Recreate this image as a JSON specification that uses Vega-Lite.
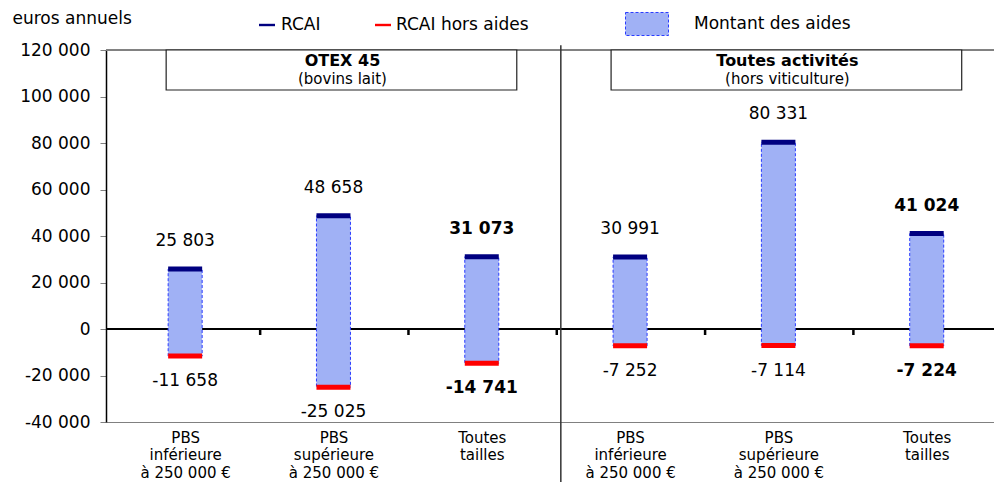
{
  "$schema": "https://vega.github.io/schema/vega-lite/v6.json",
  "width": 888,
  "height": 372,
  "autosize": {"type": "none"},
  "padding": {"left": 106, "top": 50, "right": 0, "bottom": 60},
  "background": "white",
  "config": {
    "view": {"stroke": null},
    "font": "DejaVu Sans",
    "locale": {"number": {"decimal": ",", "thousands": " ", "grouping": [3], "currency": ["", " €"], "minus": "-"}}
  },
  "datasets": {
    "resultats": [
      {"idx": 0, "groupe": "OTEX 45", "detail": "(bovins lait)", "taille": "PBS inférieure à 250 000 €", "rcai": 25803, "hors": -11658},
      {"idx": 1, "groupe": "OTEX 45", "detail": "(bovins lait)", "taille": "PBS supérieure à 250 000 €", "rcai": 48658, "hors": -25025},
      {"idx": 2, "groupe": "OTEX 45", "detail": "(bovins lait)", "taille": "Toutes tailles", "rcai": 31073, "hors": -14741},
      {"idx": 3, "groupe": "Toutes activités", "detail": "(hors viticulture)", "taille": "PBS inférieure à 250 000 €", "rcai": 30991, "hors": -7252},
      {"idx": 4, "groupe": "Toutes activités", "detail": "(hors viticulture)", "taille": "PBS supérieure à 250 000 €", "rcai": 80331, "hors": -7114},
      {"idx": 5, "groupe": "Toutes activités", "detail": "(hors viticulture)", "taille": "Toutes tailles", "rcai": 41024, "hors": -7224}
    ],
    "separateur": [{"x": 2.533, "haut": 122000, "bas": -66000}]
  },
  "data": {"name": "resultats"},
  "resolve": {"scale": {"color": "independent"}},
  "layer": [
    {
      "mark": {"type": "rule", "color": "#808080", "strokeWidth": 1},
      "encoding": {"y": {"datum": 120000, "type": "quantitative"}}
    },
    {
      "mark": {"type": "rule", "color": "black", "strokeWidth": 2},
      "encoding": {"y": {"datum": 0, "type": "quantitative"}}
    },
    {
      "mark": {"type": "tick", "orient": "vertical", "size": 6, "thickness": 2.5, "color": "black", "opacity": 1, "xOffset": 75, "yOffset": 3},
      "encoding": {
        "x": {"field": "idx", "type": "quantitative"},
        "y": {"datum": 0, "type": "quantitative"}
      }
    },
    {
      "mark": {"type": "bar", "size": 34, "stroke": "#2a3cff", "strokeWidth": 1, "strokeDash": [3, 2], "opacity": 1},
      "encoding": {
        "x": {
          "field": "idx", "type": "quantitative",
          "scale": {"domain": [-0.5, 5.42], "nice": false, "zero": false},
          "axis": {
            "values": [0, 1, 2, 3, 4, 5],
            "labelExpr": "datum.value % 3 == 0 ? ['PBS', 'inférieure', 'à 250 000 €'] : (datum.value % 3 == 1 ? ['PBS', 'supérieure', 'à 250 000 €'] : ['Toutes', 'tailles'])",
            "title": "", "ticks": false, "domainColor": "#808080", "domainWidth": 1, "grid": false,
            "labelFontSize": 15, "labelFont": "DejaVu Sans", "labelColor": "black", "labelPadding": 8,
            "labelBaseline": "top", "labelLineHeight": 17.5, "labelFlush": false, "labelOverlap": false, "labelBound": false
          }
        },
        "y": {
          "field": "hors", "type": "quantitative",
          "scale": {"domain": [-40000, 120000], "nice": false, "zero": false},
          "axis": {
            "title": "euros annuels", "titleAngle": 0, "titleAlign": "left", "titleBaseline": "middle",
            "titleX": -94, "titleY": -32, "titleFontSize": 17, "titleFontWeight": "normal", "titleColor": "black", "titleFont": "DejaVu Sans",
            "values": [-40000, -20000, 0, 20000, 40000, 60000, 80000, 100000, 120000],
            "format": ",d", "labelFontSize": 17, "labelFont": "DejaVu Sans", "labelColor": "black", "labelPadding": 10,
            "tickSize": 6, "tickColor": "#808080", "tickWidth": 1, "domainColor": "black", "domainWidth": 1.5,
            "grid": false, "labelFlush": false, "labelOverlap": false
          }
        },
        "y2": {"field": "rcai"},
        "color": {
          "datum": "Montant des aides",
          "scale": {"range": ["#a0b1f5"]},
          "legend": {
            "title": null, "orient": "none", "legendX": 519, "legendY": -48, "padding": 0,
            "symbolType": "M-1,-0.535H1V0.535H-1Z", "symbolSize": 1849, "symbolOpacity": 1,
            "symbolStrokeColor": "#2a3cff", "symbolStrokeWidth": 1, "symbolDash": [3, 2],
            "labelOffset": 25, "labelFontSize": 17, "labelFont": "DejaVu Sans", "labelColor": "black"
          }
        }
      }
    },
    {
      "mark": {"type": "tick", "orient": "horizontal", "size": 34, "thickness": 5, "opacity": 1},
      "encoding": {
        "x": {"field": "idx", "type": "quantitative"},
        "y": {"field": "rcai", "type": "quantitative"},
        "color": {
          "datum": "RCAI",
          "scale": {"range": ["#000080"]},
          "legend": {
            "title": null, "orient": "none", "legendX": 152, "legendY": -34, "padding": 0,
            "symbolType": "M-1,-0.15H1V0.15H-1Z", "symbolSize": 256, "symbolOpacity": 1,
            "labelOffset": 5, "labelFontSize": 17, "labelFont": "DejaVu Sans", "labelColor": "black"
          }
        }
      }
    },
    {
      "mark": {"type": "tick", "orient": "horizontal", "size": 34, "thickness": 5, "opacity": 1},
      "encoding": {
        "x": {"field": "idx", "type": "quantitative"},
        "y": {"field": "hors", "type": "quantitative"},
        "color": {
          "datum": "RCAI hors aides",
          "scale": {"range": ["#ff0000"]},
          "legend": {
            "title": null, "orient": "none", "legendX": 268, "legendY": -34, "padding": 0,
            "symbolType": "M-1,-0.15H1V0.15H-1Z", "symbolSize": 256, "symbolOpacity": 1,
            "labelOffset": 4, "labelFontSize": 17, "labelFont": "DejaVu Sans", "labelColor": "black"
          }
        }
      }
    },
    {
      "data": {"name": "separateur"},
      "mark": {"type": "rule", "color": "#333333", "strokeWidth": 1.5},
      "encoding": {
        "x": {"field": "x", "type": "quantitative"},
        "y": {"field": "haut", "type": "quantitative"},
        "y2": {"field": "bas"}
      }
    },
    {
      "transform": [
        {"aggregate": [
          {"op": "min", "field": "idx", "as": "debut"},
          {"op": "max", "field": "idx", "as": "fin"},
          {"op": "mean", "field": "idx", "as": "centre"}
        ], "groupby": ["groupe", "detail"]}
      ],
      "layer": [
        {
          "mark": {"type": "rect", "fill": "white", "stroke": "#222222", "strokeWidth": 1.2, "xOffset": -19, "x2Offset": 35},
          "encoding": {
            "x": {"field": "debut", "type": "quantitative"},
            "x2": {"field": "fin"},
            "y": {"datum": 120000, "type": "quantitative"},
            "y2": {"datum": 102800}
          }
        },
        {
          "mark": {"type": "text", "fontSize": 16, "fontWeight": "bold", "font": "DejaVu Sans", "color": "black", "xOffset": 9, "baseline": "middle"},
          "encoding": {
            "x": {"field": "centre", "type": "quantitative"},
            "y": {"datum": 115300, "type": "quantitative"},
            "text": {"field": "groupe"}
          }
        },
        {
          "mark": {"type": "text", "fontSize": 15, "font": "DejaVu Sans", "color": "black", "xOffset": 9, "baseline": "middle"},
          "encoding": {
            "x": {"field": "centre", "type": "quantitative"},
            "y": {"datum": 107500, "type": "quantitative"},
            "text": {"field": "detail"}
          }
        }
      ]
    },
    {
      "transform": [{"filter": "datum.taille !== 'Toutes tailles'"}],
      "layer": [
        {
          "mark": {"type": "text", "fontSize": 17, "font": "DejaVu Sans", "color": "black", "dy": -28, "baseline": "middle"},
          "encoding": {
            "x": {"field": "idx", "type": "quantitative"},
            "y": {"field": "rcai", "type": "quantitative"},
            "text": {"field": "rcai", "type": "quantitative", "format": ",d"}
          }
        },
        {
          "mark": {"type": "text", "fontSize": 17, "font": "DejaVu Sans", "color": "black", "dy": 25, "baseline": "middle"},
          "encoding": {
            "x": {"field": "idx", "type": "quantitative"},
            "y": {"field": "hors", "type": "quantitative"},
            "text": {"field": "hors", "type": "quantitative", "format": ",d"}
          }
        }
      ]
    },
    {
      "transform": [{"filter": "datum.taille === 'Toutes tailles'"}],
      "layer": [
        {
          "mark": {"type": "text", "fontSize": 17, "fontWeight": "bold", "font": "DejaVu Sans", "color": "black", "dy": -28, "baseline": "middle"},
          "encoding": {
            "x": {"field": "idx", "type": "quantitative"},
            "y": {"field": "rcai", "type": "quantitative"},
            "text": {"field": "rcai", "type": "quantitative", "format": ",d"}
          }
        },
        {
          "mark": {"type": "text", "fontSize": 17, "fontWeight": "bold", "font": "DejaVu Sans", "color": "black", "dy": 25, "baseline": "middle"},
          "encoding": {
            "x": {"field": "idx", "type": "quantitative"},
            "y": {"field": "hors", "type": "quantitative"},
            "text": {"field": "hors", "type": "quantitative", "format": ",d"}
          }
        }
      ]
    }
  ]
}
